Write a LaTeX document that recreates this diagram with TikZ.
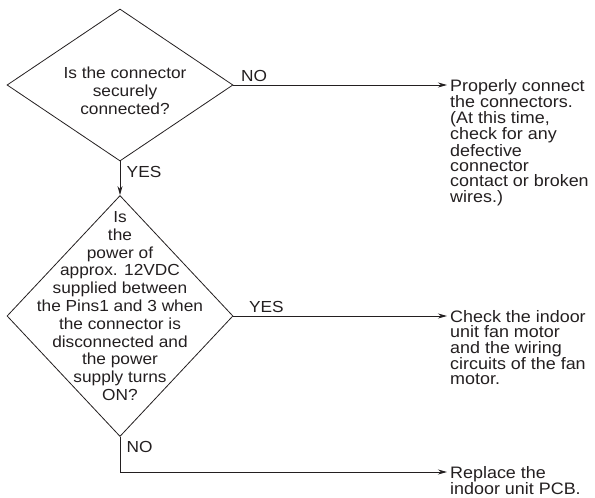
\documentclass[tikz,border=0pt]{standalone}
\usepackage{fontspec}
\setmainfont{Liberation Sans}[FakeStretch=1.08]
\usepackage{tikz}
\usetikzlibrary{arrows,arrows.meta,shapes,positioning}
\definecolor{flowblack}{RGB}{35,31,32}
\tikzstyle{arrow} = [line width=0.8pt,->,>={Stealth[length=9pt,width=5pt]},color=flowblack]
\tikzstyle{line} = [line width=0.8pt,color=flowblack]
\tikzstyle{decision} = [diamond, draw=flowblack, line width=0.8pt, inner sep=0pt, minimum width=226pt]
\tikzstyle{qtext} = [align=center, inner sep=0pt, text=flowblack, font=\fontsize{16}{17.8}\selectfont]
\tikzstyle{todo} = [align=left, anchor=north west, inner sep=0pt, text=flowblack, font=\fontsize{16.6}{15.4}\selectfont]
\tikzstyle{answer} = [text=flowblack, font=\fontsize{16}{16}\selectfont]

\begin{document}
\begin{tikzpicture}[x=1pt,y=-1pt]
\useasboundingbox (0,0) rectangle (595,498);

% questions
\node[decision, minimum height=152pt] (q1) at (120,85) {};
\node[qtext] (q1text) at (125,91) {Is the connector\\securely\\connected?};
\node[decision, minimum height=241pt] (q2) at (120,316) {};
\node[qtext] (q2text) at (120,306) {Is\\the\\power of\\approx. 12VDC\\supplied between\\the Pins1 and 3 when\\the connector is\\disconnected and\\the power\\supply turns\\ON?};

% arrow ends and the bend
\coordinate (a1) at (447,85);
\coordinate (a2) at (447,316);
\coordinate (bend) at (120,472);
\coordinate (a3) at (447,472);

% actions
\node[todo] (fix1) at ([xshift=3pt,yshift=6pt]a1) {Properly connect\\the connectors.\\(At this time,\\check for any\\defective\\connector\\contact or broken\\wires.)};
\node[todo] (fix2) at ([xshift=3pt,yshift=6pt]a2) {Check the indoor\\unit fan motor\\and the wiring\\circuits of the fan\\motor.};
\node[todo] (fix3) at ([xshift=3pt,yshift=6pt]a3) {Replace the\\indoor unit PCB.};

% connectors
\draw[arrow] (q1.east) node[answer, above right, xshift=4pt] (no1) {NO} -- (a1);
\draw[arrow] (q1.south) -- node[answer, right, pos=0.3, xshift=3pt] (yes1) {YES} (q2.north);
\draw[arrow] (q2.east) node[answer, above right, xshift=12pt] (yes2) {YES} -- (a2);
\draw[line] (q2.south) -- node[answer, right, pos=0.3, xshift=3pt] (no2) {NO} (bend);
\draw[arrow] (bend) -- (a3);
\end{tikzpicture}
\end{document}
